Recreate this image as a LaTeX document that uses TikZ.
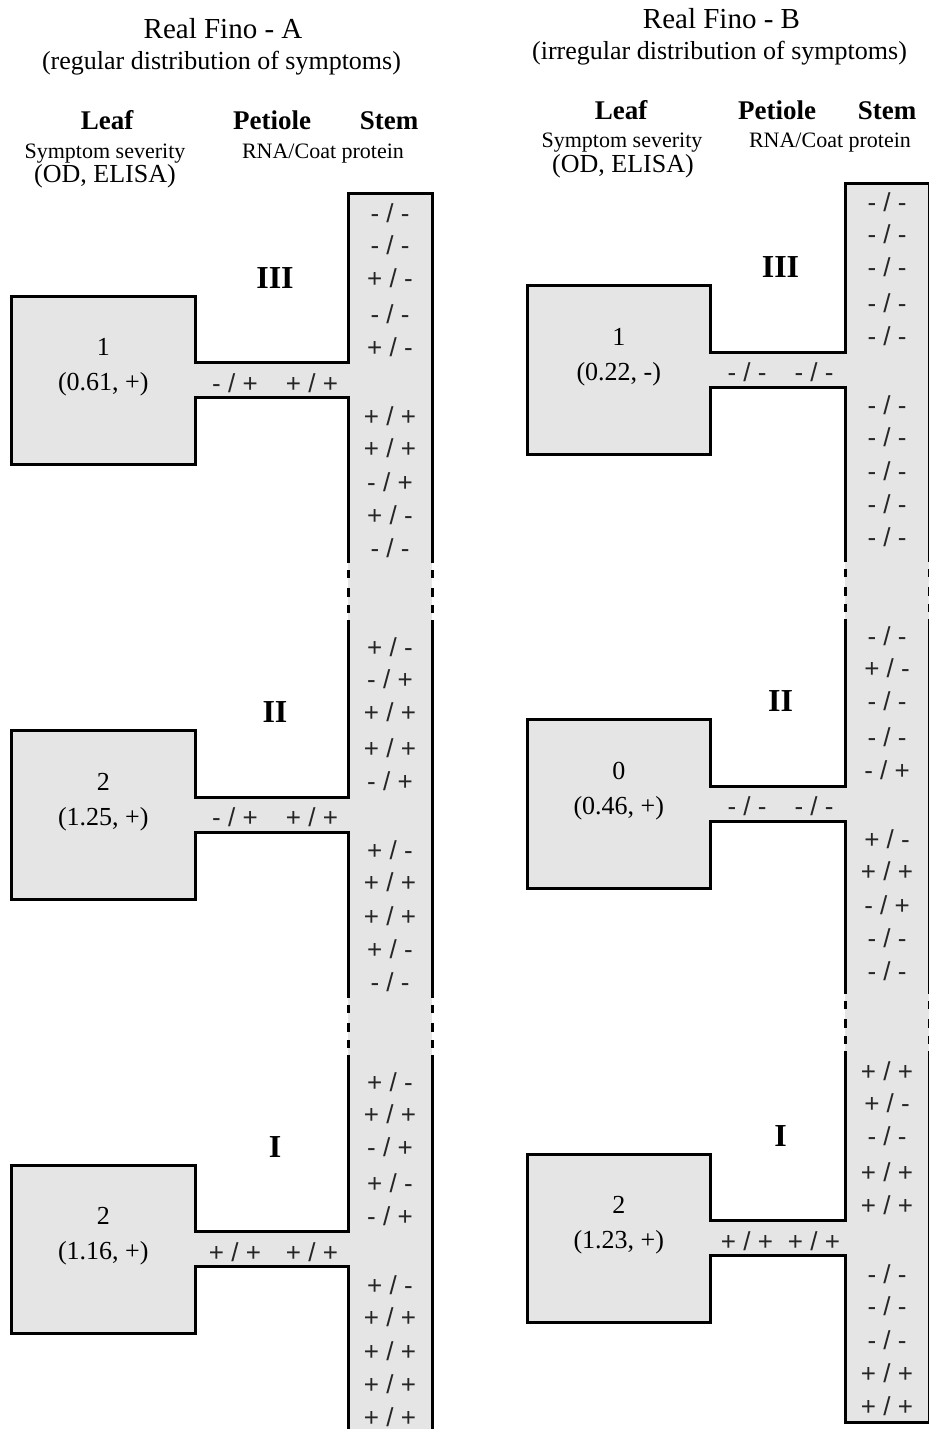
\documentclass[tikz,border=0pt]{standalone}
\usepackage{fontspec}
\setmainfont{Liberation Serif}
\newfontfamily\cellfont{Liberation Sans}

\definecolor{leafgrey}{HTML}{E5E5E5}

% one unit = one pixel of the page, y runs downwards
\tikzset{
  x=0.5pt, y=-0.5pt,
  leaffill/.style={fill=leafgrey},
  outline/.style={draw=black, line width=1.5pt, line join=miter},
  lbl/.style={inner sep=0pt, anchor=base},
  titletext/.style={lbl, font=\fontsize{14.5}{17}\selectfont},
  subtext/.style={lbl, font=\fontsize{13}{16}\selectfont},
  headtext/.style={lbl, font=\bfseries\fontsize{13.5}{16}\selectfont},
  smalltext/.style={lbl, font=\fontsize{11}{13}\selectfont},
  leaftext/.style={lbl, font=\fontsize{13}{16}\selectfont},
  numtext/.style={lbl, font=\bfseries\fontsize{16}{19}\selectfont},
  cell/.style={lbl, text=black!85, font=\cellfont\fontsize{13}{15}\selectfont},
}

% results of the RNA / coat protein tests
\def\cpp{+ / +}
\def\cpm{+ / -}
\def\cmp{- / +}
\def\cmm{- / -}

% leaf box + petiole joined to the stem
% #1 stem-left x, #2 petiole centre y, #3 petiole length, #4 path before, #5 path after
\newcommand\leafblock[5]{%
  \fill[leaffill] (#1-#3-183.5,#2-84) rectangle (#1-#3,#2+84.5);
  \fill[leaffill] (#1-#3-1,#2-17.5) rectangle (#1+1,#2+17.5);
  \draw[outline] #4 -- (#1,#2-17.5) -- (#1-#3,#2-17.5) -- (#1-#3,#2-84)
     -- (#1-#3-183.5,#2-84) -- (#1-#3-183.5,#2+84.5) -- (#1-#3,#2+84.5)
     -- (#1-#3,#2+17.5) -- (#1,#2+17.5) -- #5;
}

% dashed interruption of both stem edges, #3 = top of the interruption
\newcommand\stembreak[3]{%
  \foreach \a/\b in {7/15, 25/34, 42/50} {
    \draw[outline] (#1,#3+\a) -- (#1,#3+\b);
    \draw[outline] (#2,#3+\a) -- (#2,#3+\b);
  }
}

% texts of one leaf
% #1 name prefix, #2 stem-left x, #3 petiole centre y, #4 petiole length,
% #5 numeral x, #6 severity, #7 (OD, ELISA), #8 numeral
\newcommand\leaflabels[8]{%
  \node[leaftext] (#1-score) at (#2-#4-91.75,#3-24.5) {#6};
  \node[leaftext] (#1-od) at (#2-#4-91.75,#3+10.5) {#7};
  \node[numtext] (#1-num) at (#5,#3-92) {#8};
}

% ten stem readings around one petiole: #1 prefix, #2 stem centre x, #3 petiole centre y, #4 codes
\newcommand\stemcells[4]{%
  \foreach \t [count=\i] in {#4} {
    \pgfmathsetmacro\off{{-158,-126,-93,-57,-24,45,77,111,144,177}[\i-1]}
    \node[cell] (#1-s\i) at (#2,#3+\off) {\csname c\t\endcsname};
  }
}

\begin{document}
\begin{tikzpicture}
\useasboundingbox (0,0) rectangle (929,1429);

% ---------------- Real Fino - A ----------------
\node[titletext] (a-title) at (223,39) {Real Fino - A};
\node[subtext] (a-sub) at (221.5,69.5) {(regular distribution of symptoms)};
\node[headtext] (a-leaf) at (107,130) {Leaf};
\node[headtext] (a-pet) at (272,130) {Petiole};
\node[headtext] (a-stem) at (389,130) {Stem};
\node[smalltext] (a-sev) at (105,158) {Symptom severity};
\node[smalltext] (a-rna) at (323,158) {RNA/Coat protein};
\node[subtext] (a-od) at (105,182) {(OD, ELISA)};

\fill[leaffill] (348,193) rectangle (432,1440);
\leafblock{348}{380}{153}{(432,563.3) -- (432,193) -- (348,193)}{(348,563.3)}
\leafblock{348}{814.5}{153}{(348,620.3)}{(348,997.8)}
\leafblock{348}{1249}{153}{(348,1054.8)}{(348,1440)}
\draw[outline] (432,620.3) -- (432,997.8);
\draw[outline] (432,1054.8) -- (432,1440);
\stembreak{348}{432}{563.3}
\stembreak{348}{432}{997.8}

\leaflabels{a3}{348}{380}{153}{275}{1}{(0.61, +)}{III}
\leaflabels{a2}{348}{814.5}{153}{275}{2}{(1.25, +)}{II}
\leaflabels{a1}{348}{1249}{153}{275}{2}{(1.16, +)}{I}

\node[cell] (a3-p1) at (235,392) {\cmp};
\node[cell] (a3-p2) at (312,392) {\cpp};
\node[cell] (a2-p1) at (235,826.5) {\cmp};
\node[cell] (a2-p2) at (312,826.5) {\cpp};
\node[cell] (a1-p1) at (235,1261) {\cpp};
\node[cell] (a1-p2) at (312,1261) {\cpp};

\stemcells{a3}{390}{380}{mm,mm,pm,mm,pm,pp,pp,mp,pm,mm}
\stemcells{a2}{390}{814.5}{pm,mp,pp,pp,mp,pm,pp,pp,pm,mm}
\stemcells{a1}{390}{1249}{pm,pp,mp,pm,mp,pm,pp,pp,pp,pp}

% ---------------- Real Fino - B ----------------
\node[titletext] (b-title) at (721.5,28.5) {Real Fino - B};
\node[subtext] (b-sub) at (719.5,59.5) {(irregular distribution of symptoms)};
\node[headtext] (b-leaf) at (621,119.3) {Leaf};
\node[headtext] (b-pet) at (777,119.3) {Petiole};
\node[headtext] (b-stem) at (887,119.3) {Stem};
\node[smalltext] (b-sev) at (622,148) {Symptom severity};
\node[smalltext] (b-rna) at (830,148) {RNA/Coat protein};
\node[subtext] (b-od) at (623,172) {(OD, ELISA)};

\fill[leaffill] (845,183.5) rectangle (929,1422);
\leafblock{845}{369.5}{134.5}{(929,561.7) -- (929,183.5) -- (845,183.5)}{(845,561.7)}
\leafblock{845}{803.8}{134.5}{(845,618.7)}{(845,994)}
\leafblock{845}{1238}{134.5}{(845,1051)}{(845,1422) -- (929,1422) -- (929,1051)}
\draw[outline] (929,618.7) -- (929,994);
\stembreak{845}{929}{561.7}
\stembreak{845}{929}{994}

\leaflabels{b3}{845}{369.5}{134.5}{780.5}{1}{(0.22, -)}{III}
\leaflabels{b2}{845}{803.8}{134.5}{780.5}{0}{(0.46, +)}{II}
\leaflabels{b1}{845}{1238}{134.5}{780.5}{2}{(1.23, +)}{I}

\node[cell] (b3-p1) at (747,381.5) {\cmm};
\node[cell] (b3-p2) at (814,381.5) {\cmm};
\node[cell] (b2-p1) at (747,815.8) {\cmm};
\node[cell] (b2-p2) at (814,815.8) {\cmm};
\node[cell] (b1-p1) at (747,1250) {\cpp};
\node[cell] (b1-p2) at (814,1250) {\cpp};

\stemcells{b3}{887}{369.5}{mm,mm,mm,mm,mm,mm,mm,mm,mm,mm}
\stemcells{b2}{887}{803.8}{mm,pm,mm,mm,mp,pm,pp,mp,mm,mm}
\stemcells{b1}{887}{1238}{pp,pm,mm,pp,pp,mm,mm,mm,pp,pp}
\end{tikzpicture}
\end{document}
